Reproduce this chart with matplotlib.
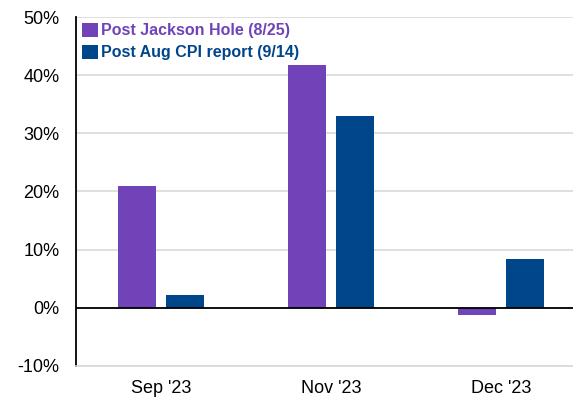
import matplotlib.pyplot as plt
import numpy as np

plt.rcParams['font.family'] = ['Liberation Sans', 'DejaVu Sans']

months = ["Sep '23", "Nov '23", "Dec '23"]
jackson_hole = [21.0, 41.8, -1.3]
aug_cpi = [2.2, 33.0, 8.4]
series_names = ["Post Jackson Hole (8/25)", "Post Aug CPI report (9/14)"]
yticks = [-10, 0, 10, 20, 30, 40, 50]

purple = "#7043b9"
navy = "#00468b"

fig = plt.figure(figsize=(5.73, 3.98), dpi=100)
ax = fig.add_axes([0.1326, 0.0812, 0.8674, 0.8753])

x = np.arange(len(months))
w = 0.2235
ax.bar(x - 0.141, jackson_hole, w, color=purple, label=series_names[0], zorder=3)
ax.bar(x + 0.141, aug_cpi, w, color=navy, label=series_names[1], zorder=3)

ax.set_xlim(-0.5, 2.4235)
ax.set_ylim(-10, 50)
ax.set_yticks(yticks)
ax.set_yticklabels([f"{v}%" for v in yticks])
ax.set_xticks(x)
ax.set_xticklabels(months)
ax.tick_params(axis='y', length=0, pad=12, labelsize=13)
ax.tick_params(axis='x', length=0, pad=10, labelsize=13)

ax.grid(axis='y', color='#d9d9d9', linewidth=1.2, zorder=0)
ax.axhline(0, color='black', linewidth=1.3, zorder=4)
for s in ['top', 'right']:
    ax.spines[s].set_visible(False)
ax.spines['left'].set_color('black')
ax.spines['left'].set_linewidth(1.3)
ax.spines['bottom'].set_color('#d9d9d9')
ax.spines['bottom'].set_linewidth(1.2)

leg = ax.legend(loc='upper left', bbox_to_anchor=(0.012, 0.985), frameon=False,
                prop={'weight': 'bold', 'size': 11.5}, handlelength=1.0,
                handleheight=1.0, handletextpad=0.2, labelspacing=0.42,
                borderaxespad=0, borderpad=0)
for t, c in zip(leg.get_texts(), [purple, navy]):
    t.set_color(c)

fig.savefig("out.png", dpi=100)
